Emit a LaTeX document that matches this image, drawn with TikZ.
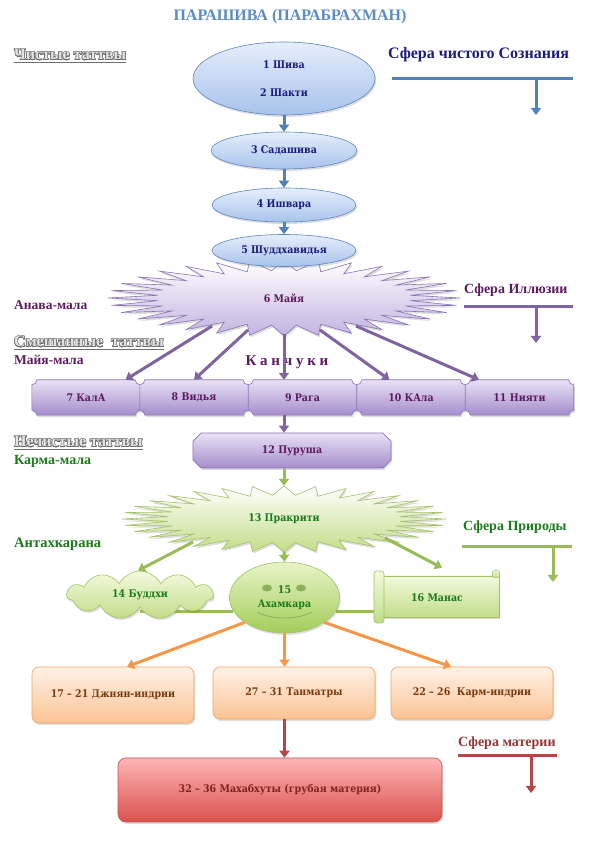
\documentclass[tikz,border=0pt]{standalone}
\usepackage{fontspec}
\setmainfont{Liberation Serif}
\newfontfamily\boxfont{DejaVu Serif Condensed}
\usepackage{contour}
\contourlength{0.5pt}
\usetikzlibrary{shapes.geometric,shapes.symbols,shapes.misc,arrows.meta,calc,shadows}
\pgfdeclarelayer{bg}
\pgfsetlayers{bg,main}
\definecolor{titleBlue}{HTML}{5B8CC6}
\definecolor{bArrow}{HTML}{4F81BD}
\definecolor{bText}{HTML}{1C1C7C}
\definecolor{bTop}{HTML}{E6EEFB}
\definecolor{bBot}{HTML}{A7C3EC}
\definecolor{bEdge}{HTML}{5F86BF}
\definecolor{pArrow}{HTML}{8064A2}
\definecolor{pText}{HTML}{5E1A60}
\definecolor{pTop}{HTML}{E9E1F4}
\definecolor{pBot}{HTML}{A48DCC}
\definecolor{pStarBot}{HTML}{C3B3E0}
\definecolor{pEdge}{HTML}{8B74B5}
\definecolor{gArrow}{HTML}{9BBB59}
\definecolor{gText}{HTML}{1B7A1B}
\definecolor{gTop}{HTML}{F3FADF}
\definecolor{gBot}{HTML}{C2DD88}
\definecolor{gEdge}{HTML}{A3C266}
\definecolor{gAhTop}{HTML}{E8F4C8}
\definecolor{gAhBot}{HTML}{A2CD58}
\definecolor{gEye}{HTML}{8DAE5A}
\definecolor{oArrow}{HTML}{F79646}
\definecolor{oText}{HTML}{7A3A10}
\definecolor{oTop}{HTML}{FFF2E8}
\definecolor{oBot}{HTML}{FBC393}
\definecolor{oEdge}{HTML}{F4A35E}
\definecolor{rArrow}{HTML}{B34747}
\definecolor{rText}{HTML}{7F2222}
\definecolor{rTop}{HTML}{FFB5B5}
\definecolor{rBot}{HTML}{D9514D}
\definecolor{rEdge}{HTML}{C65350}
\definecolor{rLabel}{HTML}{943634}
\definecolor{headFill}{HTML}{E4E4E4}
\definecolor{headEdge}{HTML}{6E6E6E}
\newcommand\burst[6]{\path[#6] ({#1+#3},#2) \foreach \i in {0,...,31}{ -- ({#1+#5*#3*cos(\i*11.25+5.625)},{#2+#5*#4*sin(\i*11.25+5.625)}) -- ({#1+#3*cos((\i+1)*11.25)},{#2+#4*sin((\i+1)*11.25)}) } -- cycle;}
\newcommand\plaque[2]{\path[#2] ([xshift=5pt]#1.north west) -- ([xshift=-5pt]#1.north east) arc[start angle=180,end angle=270,radius=5pt] -- ([yshift=5pt]#1.south east) arc[start angle=90,end angle=180,radius=5pt] -- ([xshift=5pt]#1.south west) arc[start angle=0,end angle=90,radius=5pt] -- ([yshift=-5pt]#1.north west) arc[start angle=270,end angle=360,radius=5pt] -- cycle;}
\tikzset{
  arr/.style={line width=3pt,-{Triangle[length=7pt,width=10pt]}},
  bar/.style={line width=3pt},
  shad/.style={drop shadow={shadow xshift=1.2pt,shadow yshift=-2pt,opacity=0.22,fill=black!60}},
  lbl/.style={font=\bfseries\fontsize{13.5}{15}\selectfont,anchor=base west,inner sep=0pt},
  sph/.style={font=\bfseries\fontsize{14}{16}\selectfont,anchor=base west,inner sep=0pt},
  head/.style={font=\bfseries\fontsize{16}{18}\selectfont,anchor=base west,inner sep=0pt},
  headline/.style={headEdge,line width=0.8pt},
  boxtext/.style={font=\boxfont\bfseries\fontsize{10.5}{12.6}\selectfont,align=center},
  bell/.style={ellipse,boxtext,draw=bEdge,line width=0.6pt,top color=bTop,bottom color=bBot,text=bText,inner sep=0pt,shad},
  pbox/.style={draw=pEdge,line width=0.6pt,top color=pTop,bottom color=pBot,shad},
  pstar/.style={draw=pEdge,line width=0.6pt,top color=white,bottom color=pStarBot,shad},
  gstar/.style={draw=gEdge,line width=0.6pt,top color=white,bottom color=gBot,shad},
  gshape/.style={draw=gEdge,line width=0.6pt,top color=gTop,bottom color=gBot},
  gline/.style={gArrow,line width=3pt},
  obox/.style={rectangle,rounded corners=7pt,boxtext,draw=oEdge,line width=0.6pt,top color=oTop,bottom color=oBot,text=oText,shad},
  rbox/.style={rectangle,rounded corners=8pt,boxtext,draw=rEdge,line width=0.6pt,top color=rTop,bottom color=rBot,text=rText,shad}
}
\begin{document}
\begin{tikzpicture}[x=1pt,y=1pt]
\begin{pgfonlayer}{bg}\fill[white] (0,0) rectangle (595,842);\end{pgfonlayer}
\useasboundingbox (0,0) rectangle (595,842);

% title
\node[font=\bfseries\fontsize{16}{18}\selectfont,text=titleBlue] (title) at (290,825) {ПАРАШИВА (ПАРАБРАХМАН)};

% headings
\node[head] (h1) at (14,782) {\contour{headEdge}{\textcolor{headFill}{Чистые таттвы}}};
\draw[headline] ([yshift=-2.5pt]h1.base west) -- ([yshift=-2.5pt]h1.base east);
\node[head] (h2) at (14,495) {\contour{headEdge}{\textcolor{headFill}{Смешанные\ \ таттвы}}};
\draw[headline] ([yshift=-2.5pt]h2.base west) -- ([yshift=-2.5pt]h2.base east);
\node[head] (h3) at (14,395) {\contour{headEdge}{\textcolor{headFill}{Нечистые таттвы}}};
\draw[headline] ([yshift=-2.5pt]h3.base west) -- ([yshift=-2.5pt]h3.base east);

% left labels
\node[lbl,text=pText] (anava) at (14,532) {Анава-мала};
\node[lbl,text=pText] (mayamala) at (14,477) {Майя-мала};
\node[lbl,text=gText,font=\bfseries\fontsize{14}{16}\selectfont] (karmamala) at (14,377) {Карма-мала};
\node[lbl,text=gText,font=\bfseries\fontsize{14.5}{16}\selectfont] (antah) at (14,294) {Антахкарана};

% sphere labels
\node[sph,text=bText,font=\bfseries\fontsize{16}{18}\selectfont] (sf1) at (388,783) {Сфера чистого Сознания};
\coordinate (b1l) at (392,763); \coordinate (b1r) at (573,763);
\coordinate (b1m) at (536,763); \coordinate (b1t) at (536,727);
\draw[bar,bArrow] (b1l) -- (b1r);
\draw[arr,bArrow] (b1m) -- (b1t);

\node[sph,text=pText] (sf2) at (464,548) {Сфера Иллюзии};
\coordinate (b2l) at (464,535); \coordinate (b2r) at (573,535);
\coordinate (b2m) at (536,535); \coordinate (b2t) at (536,499);
\draw[bar,pArrow] (b2l) -- (b2r);
\draw[arr,pArrow] (b2m) -- (b2t);

\node[sph,text=gText] (sf3) at (463,311) {Сфера Природы};
\coordinate (b3l) at (462,295); \coordinate (b3r) at (572,295);
\coordinate (b3m) at (553,295); \coordinate (b3t) at (553,260);
\draw[bar,gArrow] (b3l) -- (b3r);
\draw[arr,gArrow] (b3m) -- (b3t);

\node[sph,text=rLabel] (sf4) at (458,95) {Сфера материи};
\coordinate (b4l) at (458,86); \coordinate (b4r) at (557,86);
\coordinate (b4m) at (531,86); \coordinate (b4t) at (531,49);
\draw[bar,rArrow] (b4l) -- (b4r);
\draw[arr,rArrow] (b4m) -- (b4t);

% blue ellipses
\node[bell,minimum width=182pt,minimum height=73pt] (s1) at (284,763.5) {1 Шива\\[15pt]2 Шакти};
\node[bell,minimum width=146pt,minimum height=37pt] (s3) at (284,691.5) {3 Садашива};
\node[bell,minimum width=144pt,minimum height=34pt] (s4) at (284,637) {4 Ишвара};
\node[bell,minimum width=144pt,minimum height=32pt] (s5) at (284,591.5) {5 Шуддхавидья};
\draw[arr,bArrow] (s1.south) -- (s3.north);
\draw[arr,bArrow] (s3.south) -- (s4.north);
\draw[arr,bArrow] (s4.south) -- (s5.north);

% Maya star
\begin{pgfonlayer}{bg}\burst{284}{544}{176}{38}{0.72}{pstar}\end{pgfonlayer}
\node[ellipse,minimum width=352pt,minimum height=76pt,inner sep=0pt,boxtext,text=pText] (maya) at (284,544) {6 Майя};

% kanchuki
\node[font=\bfseries\fontsize{15}{17}\selectfont,text=pText] (kan) at (287,480) {К а н ч у к и};

% plaques 7-11
\node[rectangle,minimum width=108pt,minimum height=35pt,boxtext,text=pText] (k7) at (86,444.5) {7 КалА};
\node[rectangle,minimum width=108pt,minimum height=35pt,boxtext,text=pText] (k8) at (194,444.5) {8 Видья};
\node[rectangle,minimum width=108pt,minimum height=35pt,boxtext,text=pText] (k9) at (302.5,444.5) {9 Рага};
\node[rectangle,minimum width=108pt,minimum height=35pt,boxtext,text=pText] (k10) at (411,444.5) {10 КАла};
\node[rectangle,minimum width=108pt,minimum height=35pt,boxtext,text=pText] (k11) at (519.5,444.5) {11 Нияти};
\begin{pgfonlayer}{bg}
\plaque{k7}{pbox}\plaque{k8}{pbox}\plaque{k9}{pbox}\plaque{k10}{pbox}\plaque{k11}{pbox}
\end{pgfonlayer}
\draw[arr,pArrow] ([shift={(-72pt,-28pt)}]maya.center) -- ([xshift=39.5pt]k7.north);
\draw[arr,pArrow] ([shift={(-36pt,-32pt)}]maya.center) -- (k8.north);
\draw[arr,pArrow] ([shift={(0pt,-36pt)}]maya.center) -- ([xshift=-18.5pt]k9.north);
\draw[arr,pArrow] ([shift={(36pt,-32pt)}]maya.center) -- ([xshift=-21.5pt]k10.north);
\draw[arr,pArrow] ([shift={(72pt,-28pt)}]maya.center) -- ([xshift=-40.5pt]k11.north);

% Purusha
\node[chamfered rectangle,chamfered rectangle xsep=6pt,minimum width=198pt,minimum height=35pt,inner sep=0pt,boxtext,draw=pEdge,line width=0.6pt,top color=pTop,bottom color=pBot,text=pText,shad] (pur) at (292,391.5) {12 Пуруша};
\draw[arr,pArrow] (maya.center |- k9.south) -- (maya.center |- pur.north);

% Prakriti star
\begin{pgfonlayer}{bg}\burst{284}{323}{162}{33}{0.72}{gstar}\end{pgfonlayer}
\node[ellipse,minimum width=324pt,minimum height=66pt,inner sep=0pt,boxtext,text=gText] (prak) at (284,323) {13 Пракрити};
\draw[arr,gArrow] (maya.center |- pur.south) -- (prak.north);

% Buddhi, Ahamkara, Manas
\node[cloud,cloud puffs=11,cloud puff arc=125,cloud ignores aspect,minimum width=146pt,minimum height=48pt,inner sep=0pt,boxtext,draw=gEdge,line width=0.6pt,top color=gTop,bottom color=gBot,text=gText,shad] (buddhi) at (140,247) {14 Буддхи};
\node[ellipse,minimum width=110pt,minimum height=71pt,inner sep=0pt,boxtext,draw=gEdge,line width=0.6pt,top color=gAhTop,bottom color=gAhBot,text=gText,shad] (aham) at (284.5,244.5) {15\\[2pt]Ахамкара};
\fill[gEye] (267,254) ellipse (5pt and 3.5pt);
\fill[gEye] (301,254) ellipse (5pt and 3.5pt);
\draw[gEye,line width=0.8pt] (257,230) .. controls (271,222) and (298,222) .. (312,230);
\node[rectangle,minimum width=126pt,minimum height=44pt,inner sep=0pt,boxtext,text=gText] (manas) at (437,244) {16 Манас};
\begin{pgfonlayer}{bg}
\draw[gline] (aham.195) -- (aham.195 -| buddhi.center);
\draw[gline] (aham.345) -- (aham.345 -| manas.center);
\path[gshape,shad] (382,225) rectangle (499,266);
\path[gshape,rounded corners=3pt] (374,219) rectangle (384,271);
\path[gshape] (496,268) circle (4pt);
\end{pgfonlayer}
\draw[arr,gArrow] ([shift={(-91pt,-23pt)}]prak.center) -- ([xshift=-2pt]buddhi.north);
\draw[arr,gArrow] (prak.south) -- (aham.north);
\draw[arr,gArrow] ([shift={(101pt,-19pt)}]prak.center) -- ([shift={(5pt,8pt)}]manas.north);

% orange boxes
\node[obox,minimum width=162pt,minimum height=56pt] (jnana) at (113,147) {17 – 21 Джнян-индрии};
\node[obox,minimum width=162pt,minimum height=52pt] (tanm) at (294,149) {27 – 31 Танматры};
\node[obox,minimum width=162pt,minimum height=52pt] (karm) at (472,149) {22 – 26\ \ Карм-индрии};
\draw[arr,oArrow] (aham.212) -- ([xshift=14pt]jnana.north);
\draw[arr,oArrow] (aham.south) -- (aham.south |- tanm.north);
\draw[arr,oArrow] (aham.328) -- ([xshift=-21pt]karm.north);

% red box
\node[rbox,minimum width=324pt,minimum height=64pt] (maha) at (280,52) {32 – 36 Махабхуты (грубая материя)};
\draw[arr,rArrow] (aham.south |- tanm.south) -- (aham.south |- maha.north);
\end{tikzpicture}
\end{document}
